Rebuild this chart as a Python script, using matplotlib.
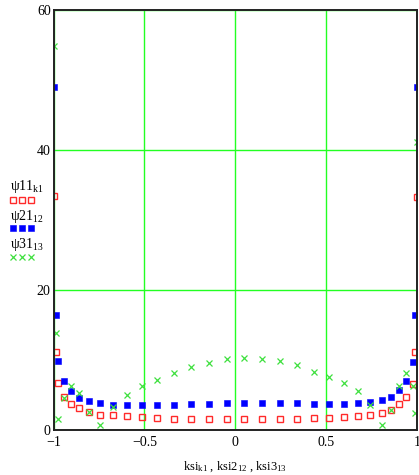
import matplotlib
matplotlib.use("Agg")
import matplotlib.pyplot as plt
from matplotlib.lines import Line2D

plt.rcParams['font.family'] = ['Liberation Serif', 'DejaVu Serif']
plt.rcParams['mathtext.fontset'] = 'custom'
plt.rcParams['mathtext.rm'] = 'Liberation Serif'
plt.rcParams['mathtext.it'] = 'Liberation Serif:italic'

# узлы по x (читаем с картинки), симметрично
half = [0.988, 0.974, 0.940, 0.902, 0.858, 0.804, 0.742, 0.672, 0.596,
        0.513, 0.430, 0.337, 0.245, 0.146, 0.047]
ksi = [-1.0] + [-v for v in half] + half[::-1] + [1.0]

psi11 = [33.5, 11.1, 6.76, 4.76, 3.76, 3.14, 2.57, 2.19, 2.10, 1.96, 1.81,
         1.76, 1.61, 1.61, 1.61, 1.61,
         1.61, 1.61, 1.61, 1.61, 1.76, 1.76, 1.90, 2.04, 2.19, 2.47, 2.90,
         3.76, 4.76, 6.61, 11.1, 33.3]
psi21 = [49.0, 16.4, 9.90, 7.04, 5.61, 4.61, 4.19, 3.90, 3.53, 3.53, 3.53,
         3.57, 3.57, 3.76, 3.76, 3.90,
         3.90, 3.90, 3.90, 3.90, 3.76, 3.76, 3.76, 3.90, 4.04, 4.33, 4.76,
         5.67, 7.04, 9.76, 16.36, 49.0]
psi31 = [54.86, 13.81, 1.53, 4.61, 6.33, 5.24, 2.61, 0.71, 3.33, 5.04, 6.29,
         7.19, 8.10, 8.96, 9.61, 10.14,
         10.33, 10.14, 9.86, 9.29, 8.33, 7.61, 6.76, 5.57, 3.53, 0.71, 2.86,
         6.33, 8.10, 6.33, 2.47, 41.19]

xticks = [-1, -0.5, 0, 0.5, 1]
xticklabels = ['\u22121', '\u22120.5', '0', '0.5', '1']
yticks = [0, 20, 40, 60]

red = '#ff2a2a'
blue = '#0000ff'
green = '#3ee03e'
grid_green = '#22ff22'

fig = plt.figure(figsize=(4.19, 4.75), dpi=100)
ax = fig.add_axes([53.5 / 419, 45 / 475, (417.3 - 53.5) / 419, 420 / 475])

ax.plot(ksi, psi11, linestyle='none', marker='s', ms=4.3, mfc='none',
        mec=red, mew=1.0)
ax.plot(ksi, psi21, linestyle='none', marker='s', ms=4.6, mfc=blue,
        mec=blue, mew=0.4)
ax.plot(ksi, psi31, linestyle='none', marker='x', ms=5.0, color=green,
        mew=0.9)

ax.set_xlim(-1, 1)
ax.set_ylim(0, 60)
ax.set_xticks(xticks)
ax.set_xticklabels(xticklabels)
ax.set_yticks(yticks)
ax.tick_params(length=0, labelsize=10, pad=2)
ax.tick_params(axis='x', pad=4)
ax.grid(True, color=grid_green, linewidth=1.0)
for s in ax.spines.values():
    s.set_color('#222222')
    s.set_linewidth(1.4)

ax.set_xlabel(r'ksi$_{\mathrm{k1}}$ , ksi2$_{\mathrm{12}}$ , ksi3$_{\mathrm{13}}$',
              fontsize=9, labelpad=8)

# легенда в стиле mathcad
fig.text(10 / 419, 1 - 190 / 475, r'ψ11$_{\mathrm{k1}}$', fontsize=10, va='baseline')
fig.text(10 / 419, 1 - 220 / 475, r'ψ21$_{\mathrm{12}}$', fontsize=10, va='baseline')
fig.text(10 / 419, 1 - 248 / 475, r'ψ31$_{\mathrm{13}}$', fontsize=10, va='baseline')
lx = [13 / 419, 22 / 419, 31 / 419]
fig.add_artist(Line2D(lx, [1 - 200 / 475] * 3, transform=fig.transFigure,
                      linestyle='none', marker='s', ms=4.3, mfc='none',
                      mec=red, mew=1.0))
fig.add_artist(Line2D(lx, [1 - 228 / 475] * 3, transform=fig.transFigure,
                      linestyle='none', marker='s', ms=5.0, mfc=blue,
                      mec=blue, mew=0.4))
fig.add_artist(Line2D(lx, [1 - 257 / 475] * 3, transform=fig.transFigure,
                      linestyle='none', marker='x', ms=5.0, color=green,
                      mew=0.9))

fig.savefig('out.png', dpi=100)
